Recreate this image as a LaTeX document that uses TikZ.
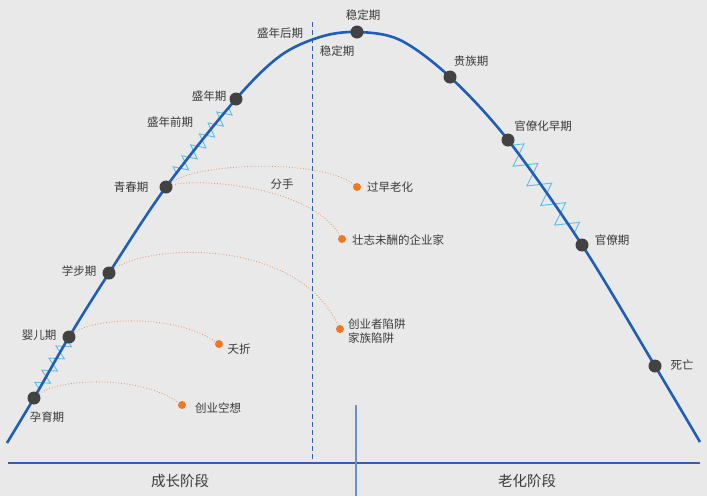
\documentclass[tikz,border=0pt]{standalone}
\usepackage{fontspec}
\setmainfont{Noto Sans CJK SC}
\usetikzlibrary{decorations.pathmorphing,calc}
\definecolor{bgray}{RGB}{233,233,233}
\definecolor{lifeblue}{RGB}{30,94,186}
\definecolor{axisblue}{RGB}{48,96,176}
\definecolor{splitblue}{RGB}{112,142,204}
\definecolor{dotgray}{RGB}{66,66,66}
\definecolor{txtgray}{RGB}{58,58,58}
\definecolor{trapor}{RGB}{240,120,30}
\definecolor{trapln}{RGB}{232,146,96}
\definecolor{zzblue}{RGB}{84,192,236}
\begin{document}
\begin{tikzpicture}[x=1pt,y=-1pt,
  stage/.style={circle, fill=dotgray, inner sep=0pt, minimum size=13pt},
  trap/.style={circle, fill=trapor, inner sep=0pt, minimum size=8pt},
  lbl/.style={text=txtgray, font=\fontsize{11.5}{14}\selectfont, inner sep=0pt},
  phase/.style={text=txtgray, font=\fontsize{14.5}{17}\selectfont, inner sep=0pt},
  trapline/.style={draw=trapln, line width=0.8pt, dotted},
  zz/.style={draw=zzblue, line width=0.9pt, decorate,
    decoration={zigzag, segment length=#1, amplitude=7pt}},
  zz/.default=14pt]
\fill[bgray] (0,0) rectangle (707,496);
\useasboundingbox (0,0) rectangle (707,496);
% points of the life curve
\coordinate (p0) at (7,443);
\coordinate (p1) at (34,398);
\coordinate (p2) at (69,337);
\coordinate (p3) at (109,273);
\coordinate (p4) at (166,187);
\coordinate (p5) at (236,99);
\coordinate (p6) at (280,56);
\coordinate (p7) at (320,37);
\coordinate (p8) at (357,32);
\coordinate (p9) at (400,40);
\coordinate (p10) at (450,77);
\coordinate (p11) at (508,140);
\coordinate (p12) at (582,245);
\coordinate (p13) at (655,366);
\coordinate (p14) at (700,442);
% axes
\coordinate (ax0) at (8,463);
\coordinate (ax1) at (700,463);
\coordinate (vx0) at (356,405);
\coordinate (vx1) at (356,496);
\coordinate (ds0) at (312,22);
\coordinate (ds1) at (312,462);
\draw[axisblue, line width=1.8pt] (ax0) -- (ax1);
\draw[splitblue, line width=1.3pt] (vx0) -- (vx1);
\draw[axisblue, line width=0.9pt, dash pattern=on 5pt off 3pt] (ds0) -- (ds1);
% zigzags
\draw[zz] ($(p1)!0.15!(p2)$) -- ($(p1)!0.95!(p2)$);
\draw[zz] ($(p4)!0.15!(p5)$) -- ($(p4)!0.93!(p5)$);
\draw[zz=24pt, decoration={amplitude=11pt}] ($(p11)!0.05!(p12)$) -- ($(p11)!0.97!(p12)$);
% life curve
\draw[lifeblue, line width=2.6pt] plot[smooth, tension=0.55] coordinates
  {(p0) (p1) (p2) (p3) (p4) (p5) (p6) (p7) (p8) (p9) (p10) (p11) (p12) (p13) (p14)};
% stages
\node[stage] (st0) at (p1){};
\node[stage] (st1) at (p2){};
\node[stage] (st2) at (p3){};
\node[stage] (st3) at (p4){};
\node[stage] (st4) at (p5){};
\node[stage] (st5) at (p8){};
\node[stage] (st6) at (p10){};
\node[stage] (st7) at (p11){};
\node[stage] (st8) at (p12){};
\node[stage] (st9) at (p13){};
\node[lbl] (lb0) at (47,417){孕育期};
\node[lbl] (lb1) at (39,335){婴儿期};
\node[lbl] (lb2) at (79,271){学步期};
\node[lbl] (lb3) at (131,187){青春期};
\node[lbl] (lb4a) at (170,122){盛年前期};
\node[lbl] (lb4) at (209,96){盛年期};
\node[lbl] (lb4b) at (280,33){盛年后期};
\node[lbl] (lb5) at (363,15){稳定期};
\node[lbl] (lb5b) at (337,51){稳定期};
\node[lbl] (lb6) at (471,61){贵族期};
\node[lbl] (lb7) at (543,126){官僚化早期};
\node[lbl] (lb8) at (612,240){官僚期};
\node[lbl] (lb9) at (682,365){死亡};
% traps
\node[trap] (tr0) at (182,405){};
\node[trap] (tr1) at (219,344){};
\node[trap] (tr2) at (340,329){};
\node[trap] (tr3) at (357,187){};
\node[trap] (tr4) at (342,239){};
\draw[trapline] (st0) .. controls (60,378) and (140,375) .. (tr0);
\draw[trapline] (st1) .. controls (95,317) and (175,314) .. (tr1);
\draw[trapline] (st2) .. controls (145,245) and (295,235) .. (tr2);
\draw[trapline] (st3) .. controls (195,163) and (320,158) .. (tr3);
\draw[trapline] (st3) .. controls (195,178) and (310,185) .. (tr4);
\node[lbl] (tl0) at (218,408){创业空想};
\node[lbl] (tl1) at (239,349){夭折};
\node[lbl, align=left, anchor=west] (tl2) at (348,331){创业者陷阱\\家族陷阱};
\node[lbl] (tl3) at (390,187){过早老化};
\node[lbl] (tl4) at (398,240){壮志未酬的企业家};
\node[lbl] (tl5) at (282,184){分手};
% phases
\node[phase] (ph0) at (180,481){成长阶段};
\node[phase] (ph1) at (527,481){老化阶段};
\end{tikzpicture}
\end{document}
